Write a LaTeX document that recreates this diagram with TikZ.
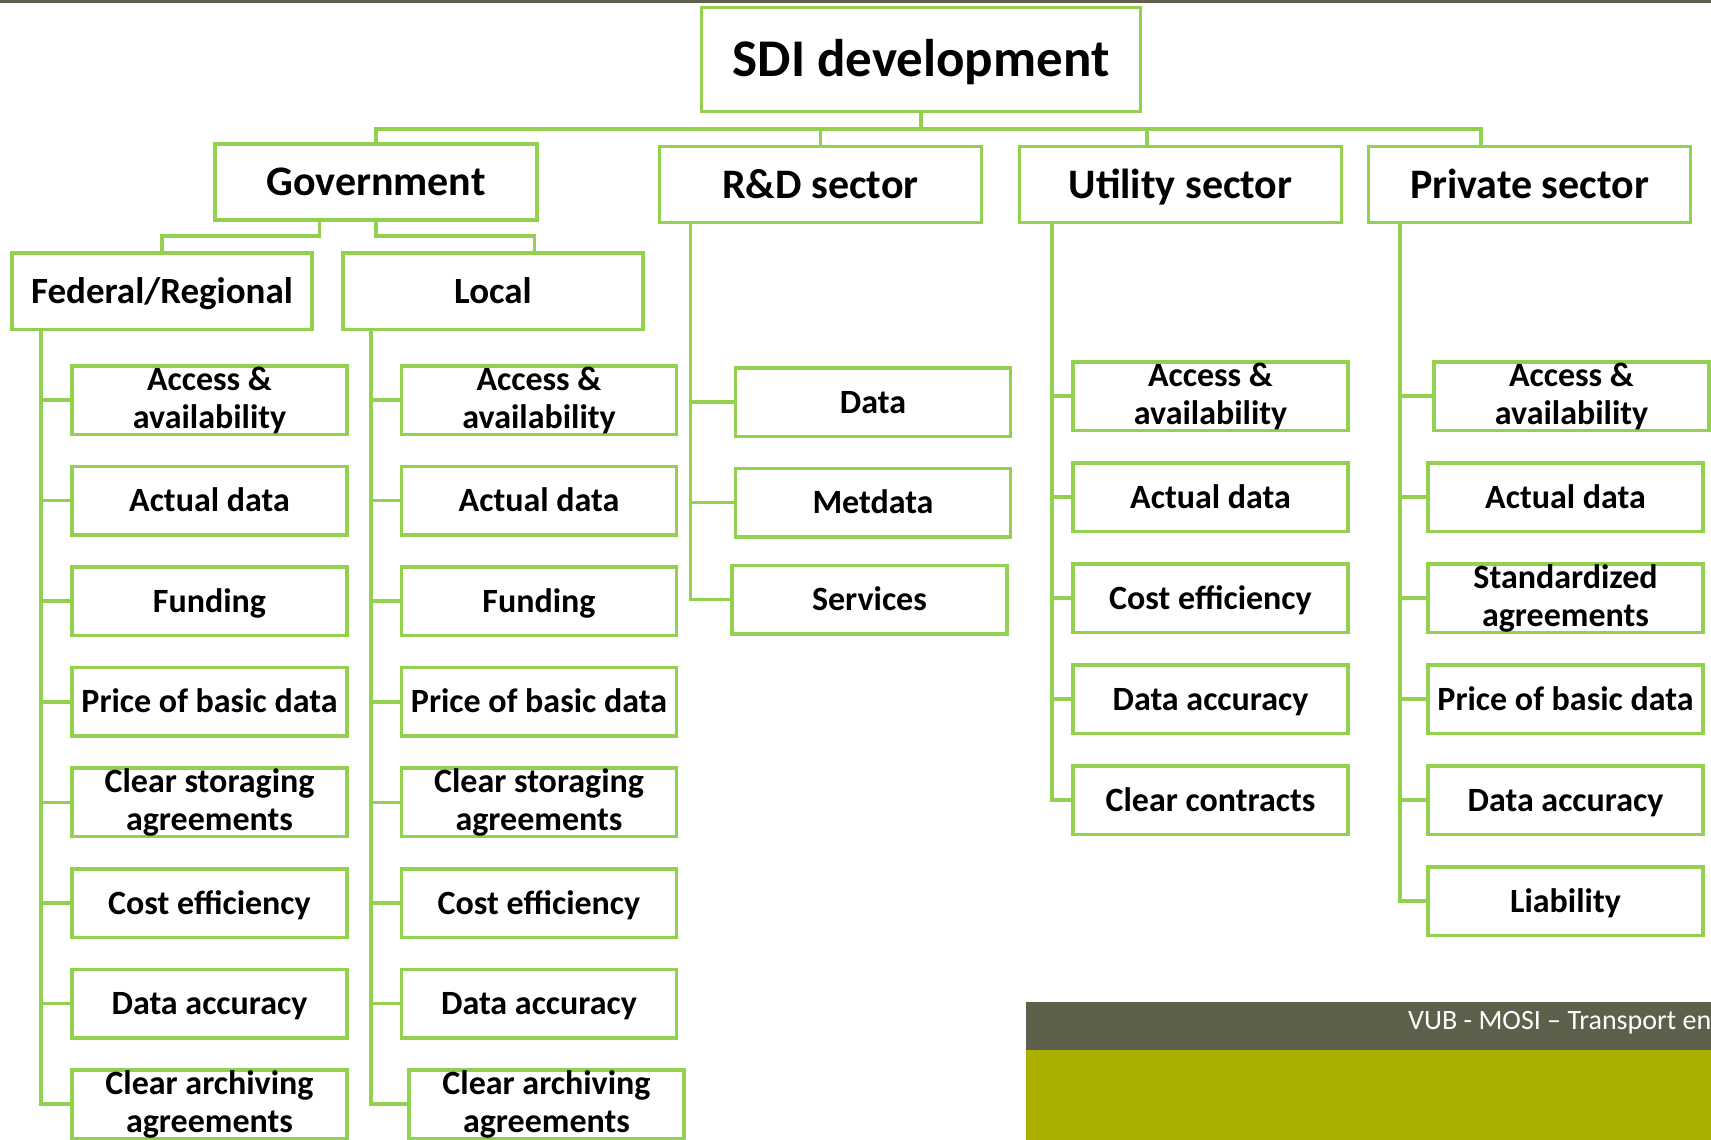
\documentclass[tikz,border=0pt]{standalone}
\usepackage{fontspec}
\setmainfont{Carlito}
\usetikzlibrary{positioning}
\definecolor{boxgreen}{HTML}{92D050}
\definecolor{barolive}{HTML}{5F604B}
\definecolor{barlime}{HTML}{A9B000}

\begin{document}
\begin{tikzpicture}[x=1pt,y=-1pt,
        box/.style={draw=boxgreen,line width=3.5pt,fill=white,inner sep=0pt,align=center},
        sector/.style={box,minimum width=322pt,minimum height=76pt,text height=27pt,text depth=0pt,font=\fontsize{42}{46}\selectfont\bfseries},
        branch/.style={box,minimum width=300pt,minimum height=76.5pt,text height=24pt,text depth=0pt,font=\fontsize{37}{40}\selectfont\bfseries},
        leaf/.style={box,minimum width=275pt,minimum height=68.5pt,font=\fontsize{34}{38}\selectfont\bfseries},
        oneline/.style={text height=22pt,text depth=0pt},
        twoline/.style={},
        link/.style={boxgreen,line width=3.5pt}]
    \useasboundingbox (0,0) rectangle (1711,1140);
    \fill[white] (0,0) rectangle (1711,1140);
    \fill[barolive] (0,0) rectangle (1711,3);

        \node[box,minimum width=439pt,minimum height=104pt,text height=34pt,text depth=0pt,font=\fontsize{53}{58}\selectfont\bfseries] (sdi) at (921,59.5) {SDI development};
        \node[sector] (gov) at (376,182) {Government};
        \node[sector] (rd) at (820.5,184.5) {R\&D sector};
        \node[sector] (util) at (1180.5,184.5) {Utility sector};
        \node[sector] (priv) at (1529.5,184.5) {Private sector};
        \coordinate (bus) at (921,129);
        \coordinate (utiltop) at (1147,146.5);
        \coordinate (privtop) at (1481,146.5);
        \draw[link] (sdi.south) -- (bus);
        \draw[link] (gov.north) |- (privtop |- bus) -- (privtop);
        \draw[link] (rd.north) -- (rd.north |- bus);
        \draw[link] (utiltop) -- (utiltop |- bus);

        \node[branch] (fed) at (162,291) {Federal/Regional};
        \node[branch] (loc) at (493,291) {Local};
        \draw[link] ([xshift=-56.5pt]gov.south) -- ++(0,14) -| (fed.north);
        \draw[link] (gov.south) -- ++(0,14) -| ([xshift=41.5pt]loc.north);

        \foreach \s/\t [count=\i] in {twoline/{Access \&\\availability},oneline/Actual data,oneline/Funding,oneline/Price of basic data,twoline/{Clear storaging\\agreements},oneline/Cost efficiency,oneline/Data accuracy,twoline/{Clear archiving\\agreements}}{
            \node[leaf,\s] (fed\i) at (209.5,{400+100.6*(\i-1)}) {\t};
            \draw[link] ([xshift=30.5pt]fed.south west) |- (fed\i.west);
        }
        \foreach \x/\s/\t [count=\i] in {539/twoline/{Access \&\\availability},539/oneline/Actual data,539/oneline/Funding,539/oneline/Price of basic data,539/twoline/{Clear storaging\\agreements},539/oneline/Cost efficiency,539/oneline/Data accuracy,546.5/twoline/{Clear archiving\\agreements}}{
            \node[leaf,\s] (loc\i) at (\x,{400+100.6*(\i-1)}) {\t};
            \draw[link] ([xshift=29.5pt]loc.south west) |- (loc\i.west);
        }

        \node[leaf,oneline] (rd1) at (873,402) {Data};
        \node[leaf,oneline] (rd2) at (873,502.5) {Metdata};
        \node[leaf,oneline] (rd3) at (869.5,599.5) {Services};
        \foreach \i in {1,2,3}
            \draw[link] ([xshift=32.5pt]rd.south west) |- (rd\i.west);

        \foreach \s/\t [count=\i] in {twoline/{Access \&\\availability},oneline/Actual data,oneline/Cost efficiency,oneline/Data accuracy,oneline/Clear contracts}{
            \node[leaf,\s] (util\i) at (1210.5,{396+101*(\i-1)}) {\t};
            \draw[link] ([xshift=34pt]util.south west) |- (util\i.west);
        }

        \foreach \x/\s/\t [count=\i] in {1571.5/twoline/{Access \&\\availability},1565.5/oneline/Actual data,1565.5/twoline/{Standardized\\agreements},1565.5/oneline/Price of basic data,1565.5/oneline/Data accuracy,1565.5/oneline/Liability}{
            \node[leaf,\s] (priv\i) at (\x,{396+101*(\i-1)}) {\t};
            \draw[link] ([xshift=33pt]priv.south west) |- (priv\i.west);
        }

    \fill[barolive] (1025.5,1001.5) rectangle (1711,1049.5);
    \fill[barlime] (1025.5,1049.5) rectangle (1711,1140);
        \node[anchor=west,inner sep=0pt,text=white,font=\fontsize{28}{30}\selectfont] (foot) at (1408,1023) {VUB - MOSI – Transport en};
\end{tikzpicture}
\end{document}
